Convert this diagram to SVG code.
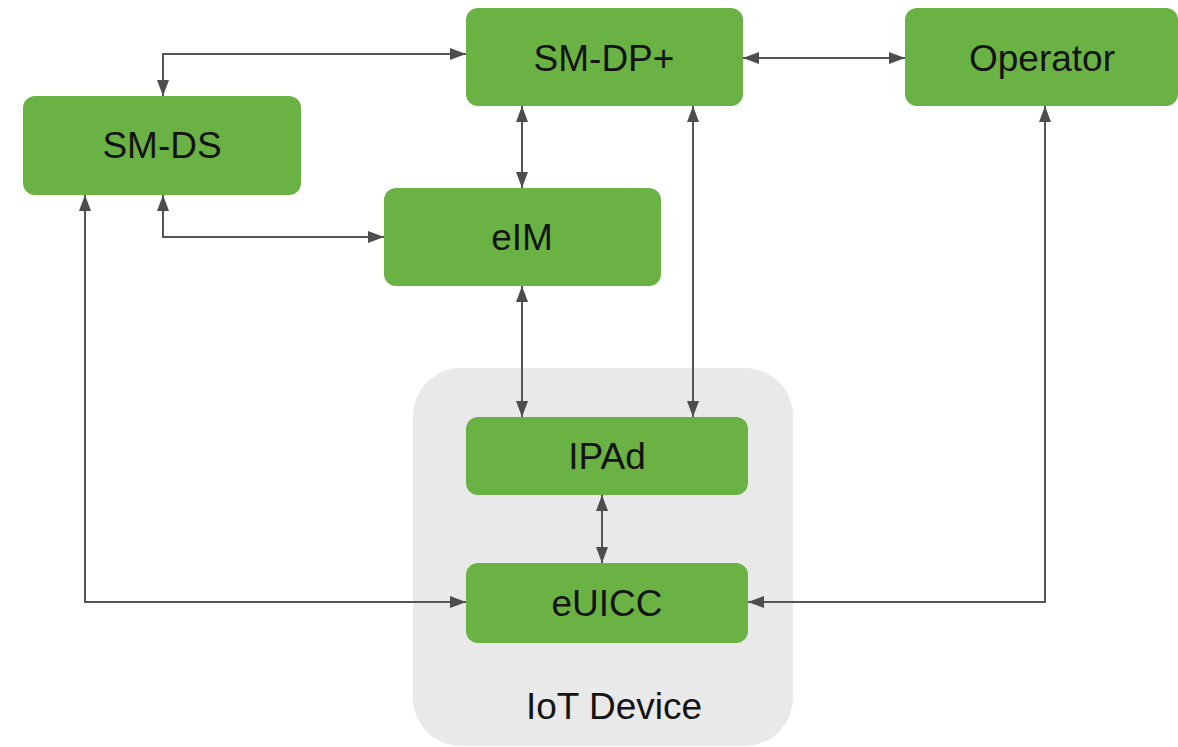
<svg xmlns="http://www.w3.org/2000/svg" width="1178" height="747" viewBox="0 0 1178 747">
<defs>
<marker id="arr" viewBox="0 0 16 12" refX="16" refY="6" markerWidth="16" markerHeight="12" markerUnits="userSpaceOnUse" orient="auto-start-reverse">
<path d="M0,0 L16,6 L0,12 z" fill="#4d4d4f"/>
</marker>
<style>
.box{fill:#6bb244;}
.lbl{font-family:"Liberation Sans",Arial,sans-serif;font-size:37px;fill:#141414;text-anchor:middle;}
.con{fill:none;stroke:#555557;stroke-width:2;marker-start:url(#arr);marker-end:url(#arr);}
</style>
</defs>
<rect width="1178" height="747" fill="#ffffff"/>
<g id="iot-device">
<rect x="413" y="368" width="380" height="378" rx="48" fill="#e9e9e9"/>
<text class="lbl" x="614" y="719">IoT Device</text>
</g>
<g id="connectors">
<path class="con" d="M163,96 V54 H466"/>
<path class="con" d="M743,58 H905"/>
<path class="con" d="M522,106 V188"/>
<path class="con" d="M163,195 V237 H384"/>
<path class="con" d="M85,195 V602 H466"/>
<path class="con" d="M522,286 V417"/>
<path class="con" d="M693,106 V417"/>
<path class="con" d="M602,495 V563"/>
<path class="con" d="M1045,106 V602 H748"/>
</g>
<g id="sm-dp">
<rect class="box" x="466" y="8" width="277" height="98" rx="12"/>
<text class="lbl" x="604" y="71">SM-DP+</text>
</g>
<g id="operator">
<rect class="box" x="905" y="8" width="273" height="98" rx="12"/>
<text class="lbl" x="1042" y="71">Operator</text>
</g>
<g id="sm-ds">
<rect class="box" x="23" y="96" width="278" height="99" rx="12"/>
<text class="lbl" x="162" y="158">SM-DS</text>
</g>
<g id="eim">
<rect class="box" x="384" y="188" width="277" height="98" rx="12"/>
<text class="lbl" x="522" y="250">eIM</text>
</g>
<g id="ipad">
<rect class="box" x="466" y="417" width="282" height="78" rx="12"/>
<text class="lbl" x="607" y="469">IPAd</text>
</g>
<g id="euicc">
<rect class="box" x="466" y="563" width="282" height="80" rx="12"/>
<text class="lbl" x="607" y="616">eUICC</text>
</g>
</svg>
